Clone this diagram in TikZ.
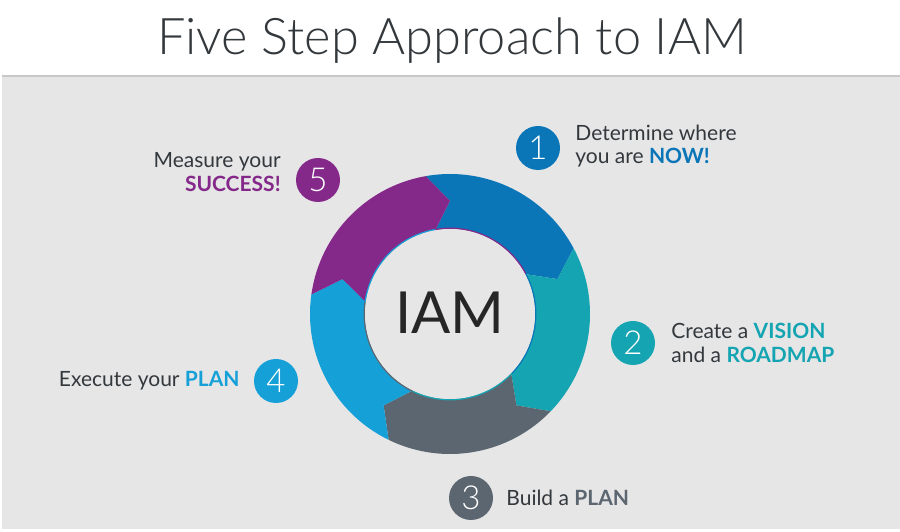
\documentclass[tikz,border=0pt]{standalone}
\usepackage{fontspec}
\setmainfont{Lato}
\newfontfamily\lightfont{Lato Light}
\usetikzlibrary{positioning}
\definecolor{stepone}{HTML}{0A76B8}
\definecolor{steptwo}{HTML}{15A4B1}
\definecolor{stepthree}{HTML}{5B6670}
\definecolor{stepfour}{HTML}{15A0D8}
\definecolor{stepfive}{HTML}{84288A}
\definecolor{panel}{HTML}{E6E6E6}
\definecolor{inktext}{HTML}{33383C}

\begin{document}
\begin{tikzpicture}[x=1pt, y=1pt,
                    number node/.style={circle, minimum size=44pt, inner sep=0pt, text=white,
                                        font=\lightfont\fontsize{33}{33}\selectfont},
                    label node/.style={text=inktext, inner sep=0pt, font=\fontsize{21}{23.5}\selectfont},
                    title node/.style={text=inktext, anchor=base, font=\lightfont\fontsize{50.5}{50}\selectfont}]

        \useasboundingbox (0,0) rectangle (900,532);
        \fill[white] (0,0) rectangle (900,532);
        \fill[panel] (2,3) rectangle (900,455);
        \draw[line width=2pt, black!22] (2,456) -- (900,456);
        \node[title node] (title) at (452,477) {Five Step Approach to IAM};

        % the ring of five arrows
        \begin{scope}[shift={(450,218)}]
          \foreach \a/\col/\prev [evaluate=\a as \b using \a-72,
                                  evaluate=\a as \t using \a-82,
                                  evaluate=\a as \n using \a-10]
              in {100/stepone/stepfive, 28/steptwo/stepone, -44/stepthree/steptwo,
                  -116/stepfour/stepthree, 172/stepfive/stepfour}
          {
            \fill[\col] (\a:140) arc[start angle=\a, end angle=\b, radius=140pt]
              -- (\t:113) -- (\b:85) arc[start angle=\b, end angle=\a, radius=85pt]
              -- (\n:113) -- cycle;
            \draw[\prev, line width=1.4pt] (\b:85.7) arc[start angle=\b, end angle=\a, radius=85.7pt];
          }
          \fill[panel] (0,0) circle[radius=85pt];
          \node[text=black!85, font=\fontsize{58}{58}\selectfont] (iam) at (0,1) {IAM};
        \end{scope}

        \node[number node, fill=stepone] (num1) at (538,384) {1};
        \node[number node, fill=steptwo] (num2) at (633,189) {2};
        \node[number node, fill=stepthree] (num3) at (471,34) {3};
        \node[number node, fill=stepfour] (num4) at (276,151) {4};
        \node[number node, fill=stepfive] (num5) at (318,352) {5};

        \node[label node, align=left, right=15pt of num1, yshift=2pt] (text1)
          {Determine where\\you are \textcolor{stepone}{\bfseries NOW!}};
        \node[label node, align=left, right=16pt of num2] (text2)
          {Create a \textcolor{steptwo}{\bfseries VISION}\\and a \textcolor{steptwo}{\bfseries ROADMAP}};
        \node[label node, right=13pt of num3] (text3) {Build a \textcolor{stepthree}{\bfseries PLAN}};
        \node[label node, left=14pt of num4] (text4) {Execute your \textcolor{stepfour}{\bfseries PLAN}};
        \node[label node, align=right, left=15pt of num5, yshift=8pt] (text5)
          {Measure your\\\textcolor{stepfive}{\bfseries SUCCESS!}};
\end{tikzpicture}
\end{document}
